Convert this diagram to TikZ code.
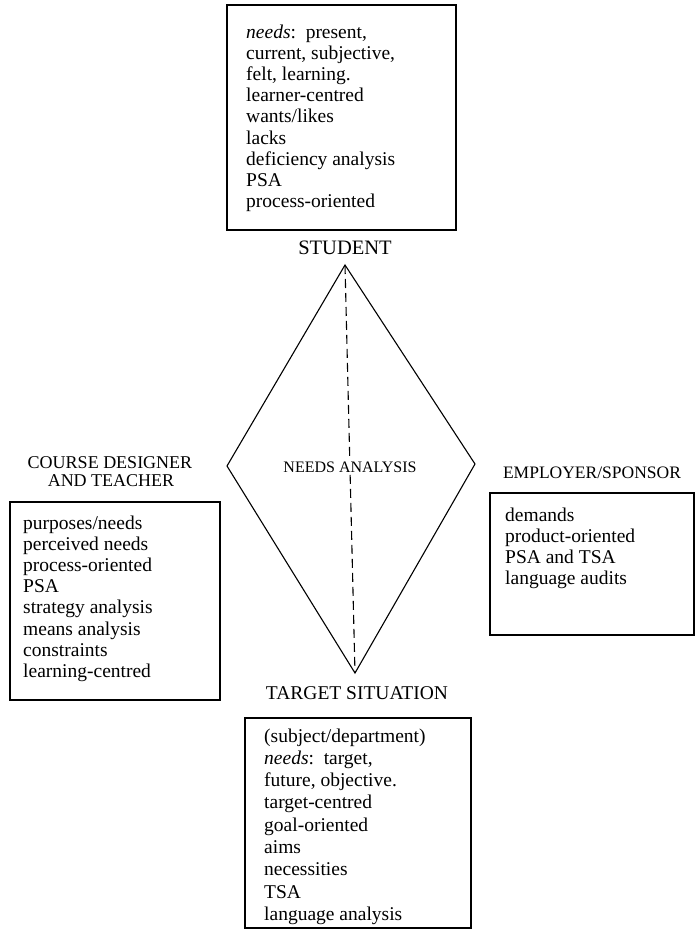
\documentclass[tikz,border=0pt]{standalone}
\usepackage{fontspec}
\setmainfont{Liberation Serif}
\usetikzlibrary{positioning}
\usetikzlibrary{calc}

\begin{document}
\begin{tikzpicture}[x=1pt, y=-1pt,
  entry/.style={anchor=base west, inner sep=0pt, font=\fontsize{19.5}{21}\selectfont},
  heading/.style={anchor=base, inner sep=0pt, font=\fontsize{18}{20}\selectfont},
  panel/.style={line width=1.1pt}]

 \useasboundingbox (0,0) rectangle (696,930);

 %student
 \def\dx{246}
 \def\dy{38};
 \draw[panel] (227,5) rectangle (456,230);
 \foreach \i/\name in {0/{\textit{needs}:\ \ present,}, 1/{current, subjective,}, 2/{felt, learning.},
     3/learner-centred, 4/{wants/likes}, 5/lacks, 6/deficiency analysis, 7/PSA, 8/process-oriented} {
         \node[entry] (stu\i) at (\dx, \i*21.2 + \dy) {\name};
 }
 \node[heading, font=\fontsize{20.5}{22}\selectfont] (student) at (345,254) {STUDENT};

 %course designer and teacher
 \def\dx{23}
 \def\dy{529};
 \draw[panel] (10,502) rectangle (220,700);
 \foreach \i/\name in {0/{purposes/needs}, 1/perceived needs, 2/process-oriented, 3/PSA,
     4/strategy analysis, 5/means analysis, 6/constraints, 7/learning-centred} {
         \node[entry] (des\i) at (\dx, \i*21.2 + \dy) {\name};
 }
 \node[heading] (designer) at (110,468) {COURSE DESIGNER};
 \node[heading] (teacher) at (111,486) {AND TEACHER};

 %employer/sponsor
 \def\dx{505}
 \def\dy{521};
 \draw[panel] (490,493) rectangle (694,635);
 \foreach \i/\name in {0/demands, 1/product-oriented, 2/PSA and TSA, 3/language audits} {
         \node[entry] (emp\i) at (\dx, \i*21.3 + \dy) {\name};
 }
 \node[heading, font=\fontsize{17.5}{20}\selectfont] (employer) at (592,478) {EMPLOYER/SPONSOR};

 %target situation
 \def\dx{264}
 \def\dy{742};
 \draw[panel] (245,718) rectangle (471,928);
 \foreach \i/\name in {0/{(subject/department)}, 1/{\textit{needs}:\ \ target,}, 2/{future, objective.},
     3/target-centred, 4/goal-oriented, 5/aims, 6/necessities, 7/TSA, 8/language analysis} {
         \node[entry] (tar\i) at (\dx, \i*22.3 + \dy) {\name};
 }
 \node[heading, font=\fontsize{19.5}{22}\selectfont] (target) at (357,699) {TARGET SITUATION};

 %diamond
 \coordinate (top) at (345,265);
 \coordinate (left) at (227,466);
 \coordinate (right) at (475,464);
 \coordinate (bottom) at (355,673);
 \draw[panel, line join=miter] (top) -- (right) -- (bottom) -- (left) -- cycle;
 \draw[panel, dash pattern=on 9pt off 5pt] (top) -- (bottom);
 \node[fill=white, inner sep=2pt, font=\fontsize{16}{18}\selectfont] (analysis) at (350,467) {NEEDS ANALYSIS};

\end{tikzpicture}
\end{document}
